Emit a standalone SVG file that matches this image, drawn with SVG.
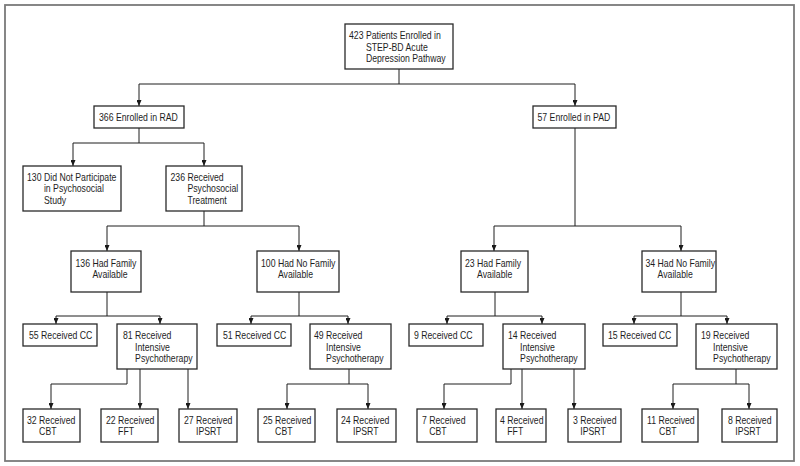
<svg xmlns="http://www.w3.org/2000/svg" width="800" height="466" viewBox="0 0 800 466">
<defs>
<marker id="ah" markerWidth="6" markerHeight="5" refX="6" refY="2.5" orient="auto" markerUnits="userSpaceOnUse" viewBox="0 0 6 5">
<path d="M0,0 L6,2.5 L0,5 Z" fill="#1a1a1a"/>
</marker>
<style>
.frame{fill:none;stroke:#7a7a7a;stroke-width:1.8}
.box{fill:#fff;stroke:#2a2a2a;stroke-width:1.3}
.t{font-family:"Liberation Sans",Arial,sans-serif;font-size:10.5px;fill:#1e1e1e}
.c{fill:none;stroke:#1e1e1e;stroke-width:1}
.a{marker-end:url(#ah)}
</style>
</defs>
<rect width="800" height="466" fill="#fff"/>
<rect class="frame" x="5" y="5" width="789" height="456"/>

<g id="connectors">
<path class="c" d="M399,69 V84 M139,84 H575"/>
<path class="c a" d="M139,84 V106"/>
<path class="c a" d="M575,84 V106"/>
<path class="c" d="M139,128 V143 M73,143 H204"/>
<path class="c a" d="M73,143 V166"/>
<path class="c a" d="M204,143 V166"/>
<path class="c" d="M204,211 V226 M107,226 H299"/>
<path class="c a" d="M107,226 V251"/>
<path class="c a" d="M299,226 V251"/>
<path class="c" d="M575,128 V226 M494,226 H681"/>
<path class="c a" d="M494,226 V251"/>
<path class="c a" d="M681,226 V251"/>
<path class="c" d="M107,292 V316 M56,316 H160"/>
<path class="c a" d="M56,316 V324"/>
<path class="c a" d="M160,316 V324"/>
<path class="c" d="M299,292 V316 M251,316 H348"/>
<path class="c a" d="M251,316 V324"/>
<path class="c a" d="M348,316 V324"/>
<path class="c" d="M495,292 V316 M447,316 H542"/>
<path class="c a" d="M447,316 V324"/>
<path class="c a" d="M542,316 V324"/>
<path class="c" d="M681,292 V316 M634,316 H727"/>
<path class="c a" d="M634,316 V324"/>
<path class="c a" d="M727,316 V324"/>
<path class="c a" d="M127,369 V384 H51 V409"/>
<path class="c a" d="M140,369 V409"/>
<path class="c a" d="M188,369 V409"/>
<path class="c" d="M349,369 V384 M287,384 H368"/>
<path class="c a" d="M287,384 V409"/>
<path class="c a" d="M368,384 V409"/>
<path class="c a" d="M511,369 V384 H444 V409"/>
<path class="c a" d="M522,369 V409"/>
<path class="c a" d="M574,369 V409"/>
<path class="c" d="M736,369 V384 M673,384 H749"/>
<path class="c a" d="M673,384 V409"/>
<path class="c a" d="M749,384 V409"/>
</g>

<g id="n423"><rect class="box" x="345" y="24" width="108" height="45"/>
<text class="t" transform="translate(349 0) scale(0.83 1)"><tspan x="0" y="39.5">423 Patients Enrolled in</tspan><tspan x="20.4" y="51">STEP-BD Acute</tspan><tspan x="20.4" y="62.5">Depression Pathway</tspan></text></g>

<g id="n366"><rect class="box" x="94" y="106" width="90" height="22"/>
<text class="t" transform="translate(99 0) scale(0.83 1)" x="0" y="121">366 Enrolled in RAD</text></g>

<g id="n57"><rect class="box" x="533" y="106" width="83" height="22"/>
<text class="t" transform="translate(537.5 0) scale(0.83 1)" x="0" y="121">57 Enrolled in PAD</text></g>

<g id="n130"><rect class="box" x="23" y="166" width="98" height="45"/>
<text class="t" transform="translate(27 0) scale(0.83 1)"><tspan x="0" y="181">130 Did Not Participate</tspan><tspan x="20.4" y="192.5">in Psychosocial</tspan><tspan x="20.4" y="204">Study</tspan></text></g>

<g id="n236"><rect class="box" x="166" y="166" width="76" height="45"/>
<text class="t" transform="translate(170.5 0) scale(0.83 1)"><tspan x="0" y="181">236 Received</tspan><tspan x="20.4" y="192.5">Psychosocial</tspan><tspan x="20.4" y="204">Treatment</tspan></text></g>

<g id="n136"><rect class="box" x="71" y="251" width="70" height="41"/>
<text class="t" transform="translate(75.5 0) scale(0.83 1)"><tspan x="0" y="267">136 Had Family</tspan><tspan x="20.4" y="278.5">Available</tspan></text></g>

<g id="n100"><rect class="box" x="257" y="251" width="82" height="41"/>
<text class="t" transform="translate(261 0) scale(0.83 1)"><tspan x="0" y="267">100 Had No Family</tspan><tspan x="20.4" y="278.5">Available</tspan></text></g>

<g id="n23"><rect class="box" x="461" y="251" width="67" height="41"/>
<text class="t" transform="translate(465 0) scale(0.83 1)"><tspan x="0" y="267">23 Had Family</tspan><tspan x="14.6" y="278.5">Available</tspan></text></g>

<g id="n34"><rect class="box" x="642" y="251" width="74" height="41"/>
<text class="t" transform="translate(645.5 0) scale(0.83 1)"><tspan x="0" y="267">34 Had No Family</tspan><tspan x="14.6" y="278.5">Available</tspan></text></g>

<g id="n55"><rect class="box" x="23" y="324" width="74" height="22"/>
<text class="t" transform="translate(29 0) scale(0.83 1)" x="0" y="339.5">55 Received CC</text></g>

<g id="n81"><rect class="box" x="117" y="324" width="80" height="45"/>
<text class="t" transform="translate(123 0) scale(0.83 1)"><tspan x="0" y="339.5">81 Received</tspan><tspan x="14.6" y="351">Intensive</tspan><tspan x="14.6" y="362.5">Psychotherapy</tspan></text></g>

<g id="n51"><rect class="box" x="217" y="324" width="74" height="22"/>
<text class="t" transform="translate(223 0) scale(0.83 1)" x="0" y="339.5">51 Received CC</text></g>

<g id="n49"><rect class="box" x="310" y="324" width="81" height="45"/>
<text class="t" transform="translate(314 0) scale(0.83 1)"><tspan x="0" y="339.5">49 Received</tspan><tspan x="14.6" y="351">Intensive</tspan><tspan x="14.6" y="362.5">Psychotherapy</tspan></text></g>

<g id="n9"><rect class="box" x="409" y="324" width="74" height="22"/>
<text class="t" transform="translate(414 0) scale(0.83 1)" x="0" y="339.5">9 Received CC</text></g>

<g id="n14"><rect class="box" x="503" y="324" width="82" height="45"/>
<text class="t" transform="translate(508 0) scale(0.83 1)"><tspan x="0" y="339.5">14 Received</tspan><tspan x="14.6" y="351">Intensive</tspan><tspan x="14.6" y="362.5">Psychotherapy</tspan></text></g>

<g id="n15"><rect class="box" x="603" y="324" width="74" height="22"/>
<text class="t" transform="translate(608 0) scale(0.83 1)" x="0" y="339.5">15 Received CC</text></g>

<g id="n19"><rect class="box" x="696" y="324" width="81" height="45"/>
<text class="t" transform="translate(701 0) scale(0.83 1)"><tspan x="0" y="339.5">19 Received</tspan><tspan x="14.6" y="351">Intensive</tspan><tspan x="14.6" y="362.5">Psychotherapy</tspan></text></g>

<g id="n32"><rect class="box" x="23" y="409" width="57" height="33"/>
<text class="t" transform="translate(27 0) scale(0.83 1)"><tspan x="0" y="424.5">32 Received</tspan><tspan x="14.6" y="435.5">CBT</tspan></text></g>

<g id="n22"><rect class="box" x="101" y="409" width="57" height="33"/>
<text class="t" transform="translate(106 0) scale(0.83 1)"><tspan x="0" y="424.5">22 Received</tspan><tspan x="14.6" y="435.5">FFT</tspan></text></g>

<g id="n27"><rect class="box" x="179" y="409" width="58" height="33"/>
<text class="t" transform="translate(184 0) scale(0.83 1)"><tspan x="0" y="424.5">27 Received</tspan><tspan x="14.6" y="435.5">IPSRT</tspan></text></g>

<g id="n25"><rect class="box" x="258" y="409" width="57" height="33"/>
<text class="t" transform="translate(263 0) scale(0.83 1)"><tspan x="0" y="424.5">25 Received</tspan><tspan x="14.6" y="435.5">CBT</tspan></text></g>

<g id="n24"><rect class="box" x="337" y="409" width="59" height="33"/>
<text class="t" transform="translate(341 0) scale(0.83 1)"><tspan x="0" y="424.5">24 Received</tspan><tspan x="14.6" y="435.5">IPSRT</tspan></text></g>

<g id="n7"><rect class="box" x="417" y="409" width="60" height="33"/>
<text class="t" transform="translate(422 0) scale(0.83 1)"><tspan x="0" y="424.5">7 Received</tspan><tspan x="8.76" y="435.5">CBT</tspan></text></g>

<g id="n4"><rect class="box" x="496" y="409" width="50" height="33"/>
<text class="t" transform="translate(500 0) scale(0.83 1)"><tspan x="0" y="424.5">4 Received</tspan><tspan x="8.76" y="435.5">FFT</tspan></text></g>

<g id="n3"><rect class="box" x="568" y="409" width="53" height="33"/>
<text class="t" transform="translate(573 0) scale(0.83 1)"><tspan x="0" y="424.5">3 Received</tspan><tspan x="8.76" y="435.5">IPSRT</tspan></text></g>

<g id="n11"><rect class="box" x="642" y="409" width="56" height="33"/>
<text class="t" transform="translate(647 0) scale(0.83 1)"><tspan x="0" y="424.5">11 Received</tspan><tspan x="14.6" y="435.5">CBT</tspan></text></g>

<g id="n8"><rect class="box" x="722" y="409" width="55" height="33"/>
<text class="t" transform="translate(728 0) scale(0.83 1)"><tspan x="0" y="424.5">8 Received</tspan><tspan x="8.76" y="435.5">IPSRT</tspan></text></g>
</svg>
